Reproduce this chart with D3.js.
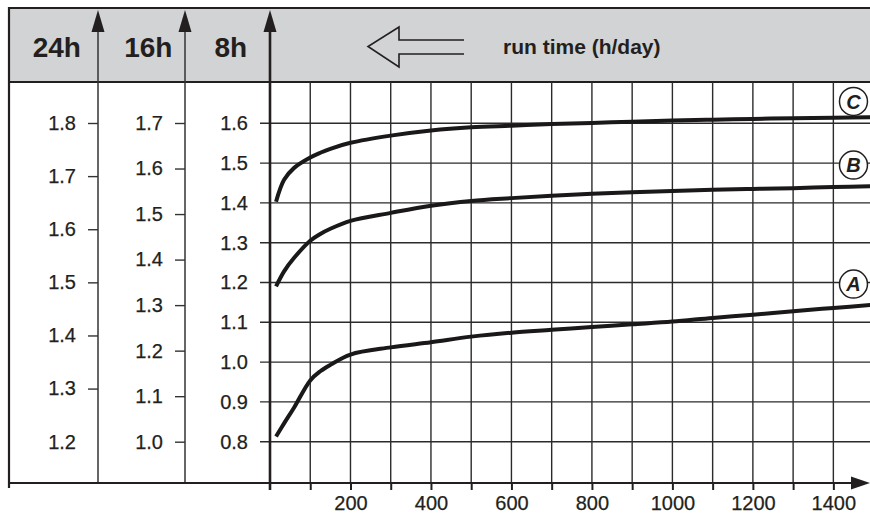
<html>
<head>
<script src="https://d3js.org/d3.v7.min.js"></script>
<style>
body { margin: 0; background: #fff; font-family: 'Liberation Sans', Arial, Helvetica, sans-serif; }
svg text { fill: #231f20; }
</style>
</head>
<body>
<div id="chart"></div>
<script>
// run time in hours (x) and curve values read on the 8h scale
var hours  = [15, 35, 60, 100, 125, 150, 200, 300, 400, 500, 600, 700, 800, 900, 1000, 1100, 1200, 1300, 1400, 1500];
var curveC = [1.403, 1.458, 1.488, 1.514, 1.526, 1.536, 1.551, 1.569, 1.582, 1.590, 1.594, 1.598, 1.601, 1.604, 1.607, 1.609, 1.611, 1.613, 1.614, 1.615];
var curveB = [1.190, 1.228, 1.262, 1.305, 1.322, 1.335, 1.355, 1.375, 1.393, 1.405, 1.412, 1.418, 1.423, 1.427, 1.430, 1.433, 1.435, 1.437, 1.440, 1.442];
var curveA = [0.813, 0.846, 0.886, 0.954, 0.977, 0.993, 1.019, 1.037, 1.050, 1.064, 1.074, 1.081, 1.088, 1.095, 1.102, 1.111, 1.119, 1.128, 1.136, 1.144];

var curveNames = ["A", "B", "C"];
var labelValues = [1.196, 1.495, 1.655];   // where the circled letters sit (8h scale)
var labelHour = 1450;

var ticks8h  = [0.8, 0.9, 1.0, 1.1, 1.2, 1.3, 1.4, 1.5, 1.6];
var ticks16h = [1.0, 1.1, 1.2, 1.3, 1.4, 1.5, 1.6, 1.7];
var ticks24h = [1.2, 1.3, 1.4, 1.5, 1.6, 1.7, 1.8];
var hourTicks = [100, 200, 300, 400, 500, 600, 700, 800, 900, 1000, 1100, 1200, 1300, 1400];
var columnTitles = ["24h", "16h", "8h"];
var headerText = "run time (h/day)";

var W = 870, H = 517;
var frameLeft = 9, frameTop = 8, headerBottom = 82, baseY = 482;
var col24 = 98, col16 = 185, col8 = 270;
var ink = "#231f20";

var svg = d3.select("#chart").append("svg").attr("width", W).attr("height", H);

var x = d3.scaleLinear().domain([0, 1500]).range([col8, col8 + 603.6]);
var y8 = d3.scaleLinear().domain([0.7, 1.7]).range([481.5, 83.5]);
var y16 = d3.scaleLinear().domain([1.0, 1.7]).range([441.7, 123]);
var y24 = d3.scaleLinear().domain([1.2, 1.8]).range([441.7, 123]);

// header band
svg.append("rect").attr("x", frameLeft).attr("y", frameTop)
  .attr("width", W - frameLeft).attr("height", headerBottom - frameTop)
  .attr("fill", "#d1d3d4");
svg.append("line").attr("x1", frameLeft).attr("x2", W).attr("y1", frameTop).attr("y2", frameTop)
  .attr("stroke", ink).attr("stroke-width", 2);
svg.append("line").attr("x1", frameLeft).attr("x2", W).attr("y1", headerBottom).attr("y2", headerBottom)
  .attr("stroke", ink).attr("stroke-width", 2);

// grid
var grid = svg.append("g").attr("stroke", "#2b2b2b").attr("stroke-width", 1.4);
grid.selectAll(".vg").data(hourTicks).enter().append("line")
  .attr("x1", function(d) { return x(d); }).attr("x2", function(d) { return x(d); })
  .attr("y1", headerBottom).attr("y2", baseY);
grid.selectAll(".hg").data(ticks8h).enter().append("line")
  .attr("x1", col8 - 10).attr("x2", W)
  .attr("y1", function(d) { return y8(d); }).attr("y2", function(d) { return y8(d); });

// left border + column lines
svg.append("line").attr("x1", frameLeft).attr("x2", frameLeft).attr("y1", frameTop - 1).attr("y2", baseY + 6)
  .attr("stroke", ink).attr("stroke-width", 2.2);
[col24, col16].forEach(function(cx) {
  svg.append("line").attr("x1", cx).attr("x2", cx).attr("y1", 20).attr("y2", baseY)
    .attr("stroke", "#333").attr("stroke-width", 1.5);
});
svg.append("line").attr("x1", col8).attr("x2", col8).attr("y1", 20).attr("y2", baseY + 8)
  .attr("stroke", ink).attr("stroke-width", 2.6);

// arrow heads on top of the vertical axes
[col24, col16, col8].forEach(function(cx) {
  svg.append("path")
    .attr("d", "M" + cx + ",10 L" + (cx + 6.5) + ",32 L" + (cx - 6.5) + ",32 Z")
    .attr("fill", ink);
});

// column titles
svg.selectAll(".ctitle").data(columnTitles).enter().append("text")
  .attr("x", function(d, i) { return [56.8, 148.3, 230.8][i]; })
  .attr("y", 57.3)
  .attr("text-anchor", "middle")
  .style("font-size", "28px").style("font-weight", "bold")
  .text(function(d) { return d; });

// hollow arrow in the header
svg.append("path")
  .attr("d", "M464,40 L399,40 L399,27 L368,46.5 L399,67 L399,54 L464,54")
  .attr("fill", "none").attr("stroke", ink).attr("stroke-width", 1.6).attr("stroke-linejoin", "miter");
svg.append("text").attr("x", 503).attr("y", 53.5)
  .style("font-size", "21px").style("font-weight", "bold")
  .text(headerText);

// left-hand value axes
function valueAxis(scale, ticks, xpos, noTick) {
  var g = svg.append("g").attr("transform", "translate(" + xpos + ",0)")
    .call(d3.axisLeft(scale).tickValues(ticks).tickSize(10).tickPadding(12)
      .tickFormat(d3.format(".1f")));
  g.select(".domain").remove();
  g.selectAll("line").attr("stroke", "#333").attr("stroke-width", 1.4);
  g.selectAll("text").style("font-size", "20px").attr("fill", ink)
    .attr("stroke", ink).attr("stroke-width", 0.25)
    .style("font-family", "'Liberation Sans', Arial, sans-serif");
  if (noTick != null) {
    g.selectAll(".tick").filter(function(d) { return d === noTick; }).select("line").remove();
  }
  return g;
}
valueAxis(y24, ticks24h, col24, 1.2);
valueAxis(y16, ticks16h, col16);
var ax8 = valueAxis(y8, ticks8h, col8);
ax8.selectAll("line").remove();

// bottom axis
svg.append("line").attr("x1", frameLeft).attr("x2", W - 16).attr("y1", baseY + 1).attr("y2", baseY + 1)
  .attr("stroke", ink).attr("stroke-width", 2);
svg.append("path").attr("d", "M870," + (baseY + 1) + " L851," + (baseY - 5.5) + " L851," + (baseY + 7.5) + " Z")
  .attr("fill", ink);
var xa = svg.append("g").attr("transform", "translate(0," + baseY + ")")
  .call(d3.axisBottom(x).tickValues(hourTicks).tickSize(8).tickPadding(6)
    .tickFormat(function(d) { return d % 200 === 0 ? d : ""; }));
xa.select(".domain").remove();
xa.selectAll("line").attr("stroke", ink).attr("stroke-width", 2);
xa.selectAll("text").style("font-size", "20px").attr("fill", ink)
  .attr("stroke", ink).attr("stroke-width", 0.25)
  .style("font-family", "'Liberation Sans', Arial, sans-serif");

// curves
var series = [curveA, curveB, curveC];
var line = d3.line()
  .x(function(d) { return x(d[0]); })
  .y(function(d) { return y8(d[1]); })
  .curve(d3.curveCatmullRom.alpha(0.5));
svg.selectAll(".curve").data(series).enter().append("path")
  .attr("d", function(vals) { return line(hours.map(function(h, i) { return [h, vals[i]]; })); })
  .attr("fill", "none").attr("stroke", "#1a1818").attr("stroke-width", 4).attr("stroke-linecap", "butt");

// circled curve letters
var lab = svg.selectAll(".lab").data(curveNames).enter().append("g")
  .attr("transform", function(d, i) { return "translate(" + x(labelHour) + "," + y8(labelValues[i]) + ")"; });
lab.append("circle").attr("r", 14).attr("fill", "#fff").attr("stroke", ink).attr("stroke-width", 1.5);
lab.append("text").attr("text-anchor", "middle").attr("dy", "0.36em")
  .style("font-size", "20px").style("font-weight", "bold").style("font-style", "italic")
  .text(function(d) { return d; });
</script>
</body>
</html>
